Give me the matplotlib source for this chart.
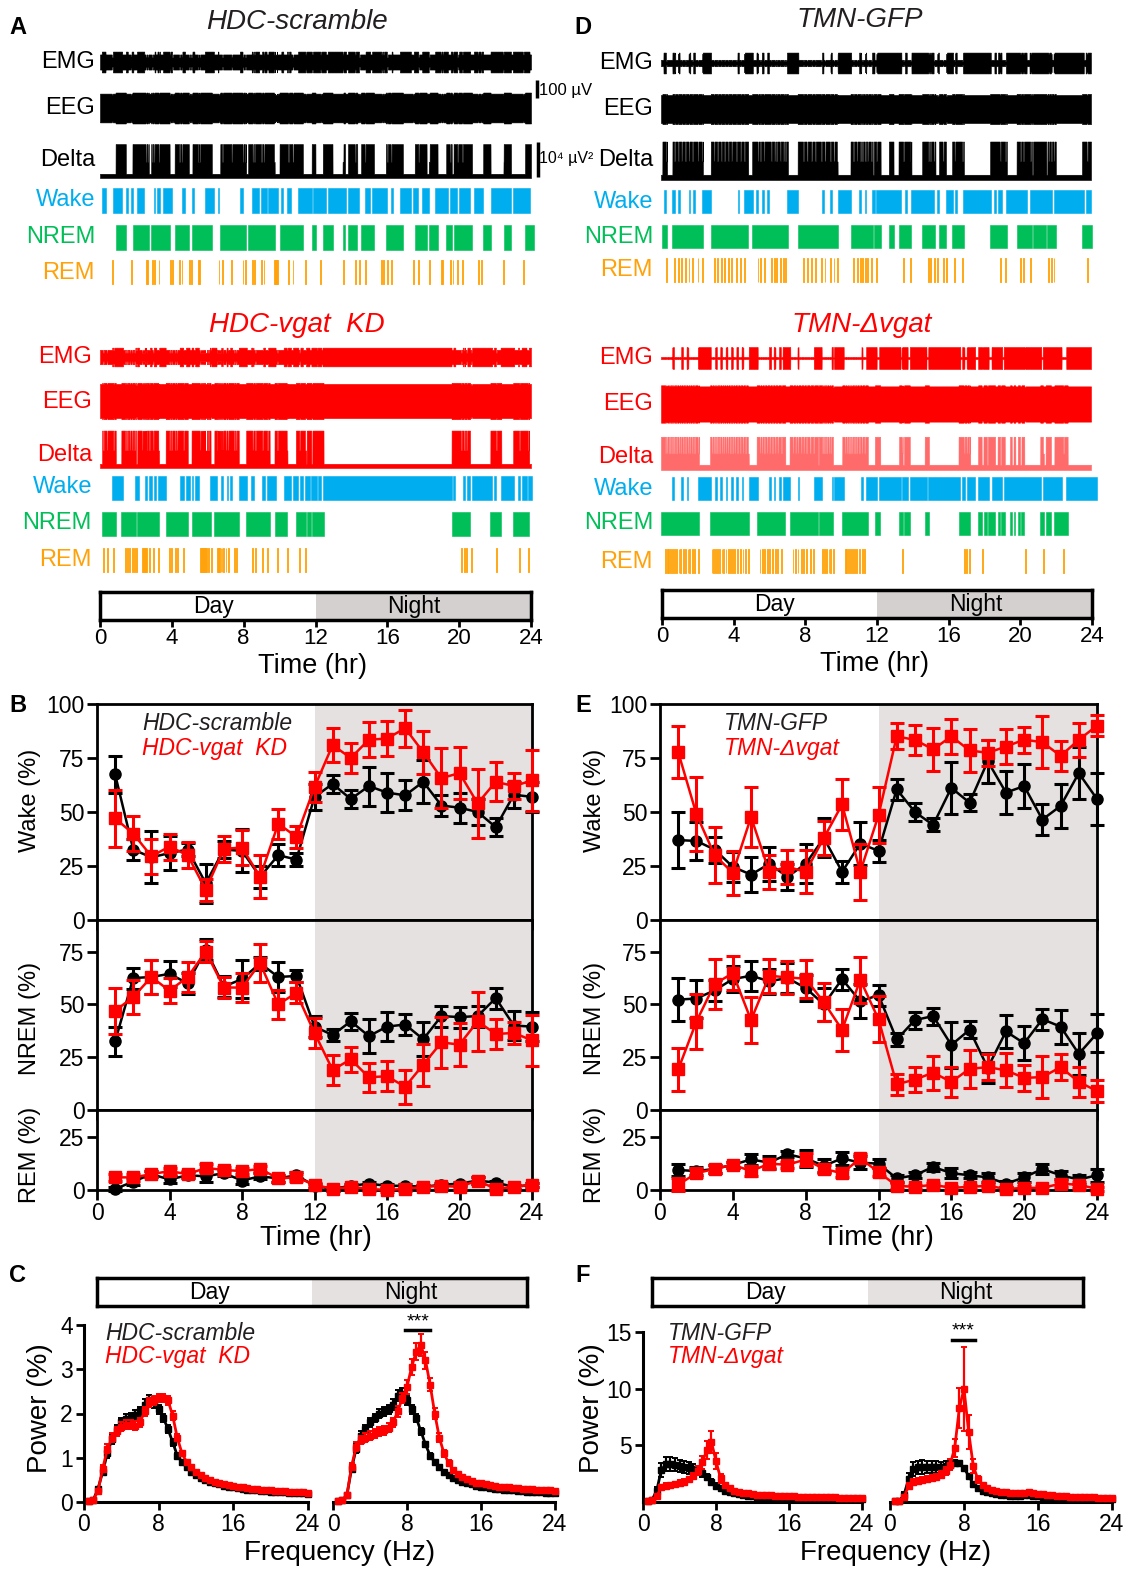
import numpy as np
import matplotlib
matplotlib.use("Agg")
import matplotlib.pyplot as plt

plt.rcParams['font.family'] = ['Liberation Sans', 'DejaVu Sans']

# ---------------------------------------------------------------- data
# Hypnograms (hours) ------------------------------------------------------
A_CTRL_WAKE = [(0.10, 0.31), (0.72, 1.24), (1.44, 1.55), (1.75, 1.86), (2.06, 2.47), (2.99, 3.09),
               (3.20, 3.34), (3.51, 4.02), (4.58, 4.74), (5.15, 5.26), (5.84, 6.35), (6.56, 6.64),
               (7.79, 7.94), (8.45, 8.87), (8.97, 9.28), (9.38, 9.90), (10.10, 10.21), (10.41, 10.62),
               (11.03, 11.80), (11.86, 12.58), (12.68, 13.71), (13.81, 14.43), (14.74, 15.05),
               (15.15, 15.98), (16.19, 16.29), (16.70, 17.32), (17.42, 17.73), (17.94, 18.31),
               (18.66, 19.38), (19.48, 19.90), (20.00, 20.62), (20.82, 21.34), (21.75, 22.89),
               (22.99, 23.92)]
A_CTRL_NREM = [(0.87, 1.44), (1.81, 2.72), (2.85, 3.88), (4.16, 4.95), (5.15, 6.23), (6.70, 8.14),
               (8.25, 9.73), (10.00, 11.30), (11.79, 12.00), (12.41, 12.95), (13.51, 13.65),
               (13.81, 14.33), (14.54, 15.26), (15.92, 16.87), (17.53, 18.19), (18.31, 18.80),
               (19.28, 19.59), (19.69, 20.72), (21.34, 21.75), (22.47, 22.89), (23.67, 24.15)]
A_CTRL_REM = [0.66, 1.71, 2.54, 2.64, 2.89, 2.99, 3.26, 3.88, 4.02, 4.41, 4.54, 4.95, 5.07, 5.46,
              5.53, 6.60, 6.80, 7.32, 7.94, 8.08, 8.49, 8.58, 8.97, 9.11, 9.69, 9.75, 9.80, 9.86,
              10.47, 10.72, 11.44, 12.27, 13.51, 14.19, 14.43, 14.74, 15.67, 15.77, 15.98, 16.19,
              17.42, 17.73, 18.31, 18.97, 19.07, 19.48, 19.63, 19.90, 20.16, 21.03, 21.20, 22.43,
              23.55]

A_KD_WAKE = [(0.68, 1.29), (1.97, 2.18), (2.49, 2.59), (2.73, 2.88), (3.00, 3.14), (3.25, 3.66),
             (4.44, 4.68), (4.79, 4.99), (5.10, 5.20), (5.30, 5.51), (6.12, 6.49), (6.74, 6.84),
             (7.05, 7.15), (7.25, 7.36), (7.73, 8.18), (8.42, 8.55), (9.04, 9.20), (9.31, 9.78),
             (10.23, 10.64), (10.75, 11.05), (11.16, 11.30), (11.42, 11.67), (11.77, 12.08),
             (12.12, 12.33), (12.39, 19.58), (19.68, 19.79), (20.20, 20.34), (20.46, 20.61),
             (20.71, 21.84), (21.94, 22.05), (22.31, 23.07), (23.28, 23.38), (23.48, 23.75),
             (23.83, 24.05)]
A_KD_NREM = [(0.12, 0.88), (1.19, 2.01), (2.08, 3.29), (3.66, 4.89), (5.10, 6.16), (6.37, 7.73),
             (8.14, 9.45), (9.72, 10.44), (10.91, 11.47), (11.51, 11.77), (11.83, 12.45),
             (19.58, 20.61), (21.74, 22.35), (23.01, 23.90)]
A_KD_REM = [0.16, 0.37, 0.74, 1.40, 1.50, 1.64, 1.77, 1.91, 2.01, 2.32, 2.38, 2.44, 2.50, 2.56,
            2.73, 2.94, 3.25, 3.86, 3.97, 4.17, 4.27, 4.64, 5.55, 5.61, 5.67, 5.73, 5.79, 5.85,
            5.90, 6.02, 6.16, 6.53, 6.59, 6.65, 6.71, 6.77, 6.83, 6.99, 7.11, 7.46, 7.56, 8.49,
            8.63, 9.04, 9.31, 9.86, 10.40, 11.10, 11.42, 20.10, 20.26, 20.40, 20.67, 22.05,
            23.34, 23.83]

D_CTRL_WAKE = [(0.14, 0.28), (0.64, 0.80), (0.94, 1.04), (1.54, 1.64), (1.80, 1.90), (2.30, 2.80),
               (4.27, 4.35), (4.63, 5.13), (5.33, 5.43), (5.63, 5.73), (5.93, 6.03), (7.03, 7.67),
               (8.99, 9.07), (9.46, 9.54), (9.86, 10.62), (11.06, 11.18), (11.38, 11.46),
               (11.78, 11.92), (12.02, 13.42), (13.62, 13.72), (13.98, 15.22), (15.42, 15.52),
               (15.91, 16.31), (16.41, 16.51), (16.85, 18.41), (18.61, 18.71), (18.81, 19.01),
               (19.25, 20.41), (20.57, 21.81), (21.91, 23.60), (23.70, 24.00)]
D_CTRL_NREM = [(0.08, 0.34), (0.64, 2.34), (2.78, 4.87), (5.09, 7.09), (7.63, 9.86), (10.58, 11.82),
               (11.88, 12.26), (12.72, 12.98), (13.26, 13.98), (14.58, 15.32), (15.52, 15.91),
               (16.25, 16.91), (18.37, 19.31), (19.85, 20.71), (20.77, 21.51), (21.57, 22.04),
               (23.50, 24.06)]
D_CTRL_REM = [0.28, 0.74, 0.94, 1.14, 1.34, 1.54, 1.74, 2.04, 2.28, 2.94, 3.14, 3.34, 3.53, 3.73,
              3.93, 4.19, 4.43, 4.63, 5.39, 5.53, 5.73, 6.13, 6.33, 6.43, 6.63, 6.83, 6.93, 7.93,
              8.13, 8.39, 8.59, 8.93, 9.13, 9.43, 9.63, 9.82, 10.72, 10.92, 11.12, 11.22, 11.38,
              11.52, 11.72, 12.02, 13.52, 13.92, 14.92, 15.02, 15.22, 15.42, 15.72, 15.91, 16.38,
              16.81, 18.91, 19.21, 20.05, 20.21, 20.61, 21.62, 21.77, 21.91, 23.76]

D_KD_WAKE = [(0.63, 0.73), (1.13, 1.23), (1.43, 1.53), (2.06, 2.78), (3.02, 3.12), (3.31, 3.41),
             (3.61, 3.71), (3.91, 4.01), (4.21, 4.31), (4.50, 4.60), (4.90, 5.40), (6.03, 6.15),
             (6.29, 6.39), (6.59, 6.69), (6.79, 7.22), (7.62, 7.68), (8.53, 8.97), (9.52, 9.60),
             (9.66, 10.20), (11.19, 11.25), (11.45, 12.04), (12.18, 13.37), (13.43, 13.77),
             (13.89, 14.82), (14.92, 16.71), (16.81, 16.94), (17.06, 17.54), (17.70, 18.29),
             (18.45, 19.05), (19.13, 21.23), (21.31, 22.36), (22.62, 24.35)]
D_KD_NREM = [(0.00, 2.12), (2.74, 4.90), (5.34, 6.94), (7.18, 8.77), (8.81, 9.60), (10.12, 11.55),
             (11.94, 12.24), (13.29, 13.49), (13.57, 13.89), (14.72, 14.96), (16.61, 17.26),
             (17.70, 17.90), (18.00, 18.19), (18.25, 18.65), (18.79, 18.93), (18.99, 19.19),
             (19.48, 19.58), (19.68, 19.78), (19.92, 20.04), (20.12, 20.28), (21.17, 21.37),
             (21.47, 21.77), (21.96, 22.70)]
D_KD_REM = [0.24, 0.32, 0.40, 0.50, 0.62, 0.72, 0.85, 0.98, 1.08, 1.22, 1.35, 1.48, 1.58, 1.72,
            1.85, 2.05, 2.82, 2.92, 3.02, 3.12, 3.25, 3.38, 3.48, 3.60, 3.72, 3.85, 3.98, 4.10,
            4.25, 4.40, 4.55, 4.70, 4.85, 5.50, 5.62, 5.75, 5.90, 6.05, 6.20, 6.35, 6.50, 6.70,
            7.34, 7.50, 7.62, 7.80, 7.95, 8.10, 8.30, 8.50, 9.00, 9.10, 9.22, 9.35, 9.45, 9.60,
            10.26, 10.35, 10.45, 10.55, 10.65, 10.78, 10.90, 11.05, 11.20, 11.35, 13.43, 16.90,
            17.05, 17.20, 17.92, 20.30, 21.32, 22.45]
REM_EPISODE_HR = 0.05

# Trace amplitude levels (uV half-amplitude; delta in 1e4 uV^2)
A_CTRL_LEVELS = dict(emg_base=42, emg_wake=16, eeg_base=80, eeg_nrem=6, delta_base=0.12, delta_nrem=0.85)
A_KD_LEVELS = dict(emg_base=40, emg_wake=12, eeg_base=95, eeg_nrem=6, delta_base=0.12, delta_nrem=0.95)
D_CTRL_LEVELS = dict(emg_base=18, emg_wake=40, eeg_base=78, eeg_nrem=6, delta_base=0.15, delta_nrem=0.95)
D_KD_LEVELS = dict(emg_base=6, emg_wake=55, eeg_base=98, eeg_nrem=6, delta_base=0.15, delta_nrem=0.80)

# Hourly sleep-wake percentages (B, E) --------------------------------------
HOURS = list(range(1, 25))
B_WAKE_CTRL = [67.4, 32.6, 29, 31, 32.6, 17, 32.6, 32, 20, 30, 28, 57, 63, 56, 62, 59, 57.7, 64, 53, 52, 50, 43, 58, 57]
B_WAKE_CTRL_E = [8.5, 5, 12, 8, 3, 9, 4, 10, 5, 5, 3, 6, 4, 4, 9, 9, 7, 10, 5, 7, 6, 4, 6, 7]
B_WAKE_KD = [47, 40, 29.5, 34, 30, 14, 33, 33.5, 20, 44.6, 38.5, 61.5, 81, 75, 83.5, 84, 88.8, 77.7, 65.7, 68, 54, 64, 62, 64.6]
B_WAKE_KD_E = [13, 8, 8, 6, 6, 5, 6, 8, 10, 7, 5, 7, 8, 7, 8, 8, 8.5, 10, 14, 12, 16, 9, 6, 14]
B_NREM_CTRL = [32.5, 62.5, 63, 64.5, 60, 76, 58.5, 62, 69.5, 63, 63.5, 39.5, 35.5, 42, 35, 39.5, 40.5, 33.5, 44.5, 44, 44.5, 53, 40, 39.5]
B_NREM_CTRL_E = [7, 5, 8, 6, 5, 5, 5, 9, 3, 7, 3, 5, 3, 4, 8, 7, 5, 8, 5, 5, 5, 5, 7, 7]
B_NREM_KD = [47, 53.5, 63, 56.5, 63, 75, 58, 58, 69.5, 50, 55.5, 36.5, 19, 24, 15.5, 16, 11, 21.5, 32, 31, 42, 36, 36.5, 33]
B_NREM_KD_E = [11, 8, 8, 6, 7, 5, 5, 7, 9, 7, 5, 7, 7, 6, 7, 7, 8, 10, 12, 10, 14, 7, 5, 12]
B_REM_CTRL = [0.5, 4, 7.5, 5, 7, 6.5, 8, 4.5, 6.5, 5.5, 7, 2, 0.5, 2, 3, 2, 2, 1.5, 2.5, 3, 4.5, 3.5, 1.5, 2.5]
B_REM_CTRL_E = [1, 1.5, 1.5, 1.5, 1.5, 2.5, 1.5, 1.5, 1.5, 1.5, 1.5, 1, 1, 1, 1, 1, 1, 1, 1, 1, 1.5, 1, 1, 1]
B_REM_KD = [6, 6, 7.5, 9, 7.5, 10.5, 9.5, 9, 10, 5.5, 6, 2.5, 0.5, 1.5, 0.5, 0, 0.5, 1.5, 2, 1.5, 4.5, 0.5, 1.5, 2.5]
B_REM_KD_E = [1.5, 1.5, 1.5, 1.5, 1.5, 2, 1.5, 1.5, 1.5, 1.5, 1.5, 1, 1, 1, 1, 1, 1, 1, 1, 1, 1.5, 1, 1, 1]

E_WAKE_CTRL = [37, 36.6, 32.6, 24.6, 21, 26, 20, 26, 38, 22.3, 35.4, 32, 60.5, 50, 44, 61.2, 54.3, 73.5, 59, 62, 46.5, 52.8, 68, 56]
E_WAKE_CTRL_E = [13, 9, 6, 7, 8, 8, 6, 9, 9, 5, 10, 5, 5, 4, 3, 12, 4, 10, 10, 10, 7, 10, 12, 12]
E_WAKE_KD = [77.7, 49, 30, 21.8, 47.7, 22.3, 24.6, 22.3, 38, 53.5, 22.3, 48.5, 85, 83.4, 79, 85, 78.5, 77.4, 80.3, 83.5, 82.3, 76, 83.4, 90]
E_WAKE_KD_E = [12, 17, 13, 10, 14, 8, 8, 10, 8, 12, 13, 13, 6, 7, 10, 8, 10, 6, 8, 6, 12, 7, 8, 5]
E_NREM_CTRL = [52.3, 52.8, 56.7, 62, 63.6, 61, 62.5, 57.8, 50, 62, 51.5, 54.4, 33.4, 42.6, 44.5, 30.8, 38, 20, 37.2, 31.6, 43, 39.5, 26.6, 36.3]
E_NREM_CTRL_E = [10, 9, 5, 6, 7, 6, 7, 6, 8, 5, 8, 5, 3, 4, 4, 11, 4, 7, 8, 8, 5, 8, 10, 9]
E_NREM_KD = [19.2, 41.9, 59.7, 64.8, 42.6, 63.6, 62.8, 62.2, 51, 38, 61.7, 43, 12.2, 14.4, 17.7, 13.3, 19.5, 20.3, 18.8, 15.2, 15.6, 20.3, 13.3, 9]
E_NREM_KD_E = [10, 13, 12, 8, 11, 8, 8, 9, 9, 10, 11, 11, 5, 6, 8, 7, 9, 6, 8, 6, 10, 6, 7, 5]
E_REM_CTRL = [9.5, 9, 10, 12, 14.5, 13, 17, 15, 11.5, 15, 13, 12.5, 5.5, 7, 11, 8, 7, 6, 3, 6, 10, 7, 5, 7]
E_REM_CTRL_E = [3, 2, 2, 1.5, 2.5, 3, 1.5, 4, 3, 3, 3, 2, 1.5, 1.5, 2, 2.5, 1.5, 2, 1.5, 2, 2.5, 2, 2, 3]
E_REM_KD = [2.5, 8, 10, 12, 9, 12.5, 12, 14.5, 10, 8, 15, 8.5, 2, 1.5, 2.5, 1, 1.5, 2, 0.5, 1, 1, 3, 2.5, 0.5]
E_REM_KD_E = [3, 2, 2, 1.5, 2.5, 2, 1.5, 3, 2, 2, 2, 2, 1.5, 1, 1, 1, 1, 1, 1, 1, 1, 1.5, 1.5, 1]

# EEG power spectra (C, F), 0.5 Hz bins ---------------------------------------
FREQ_HZ = np.arange(0.5, 24.01, 0.5)
C_DAY_CTRL = [0.03, 0.05, 0.3, 0.68, 1.1, 1.42, 1.65, 1.8, 1.88, 1.92, 1.97, 2.05, 2.2, 2.3, 2.25, 2.1,
              1.9, 1.65, 1.35, 1.05, 0.9, 0.78, 0.68, 0.6, 0.55, 0.5, 0.46, 0.42, 0.4, 0.37, 0.35, 0.33,
              0.31, 0.3, 0.28, 0.27, 0.26, 0.25, 0.24, 0.23, 0.225, 0.22, 0.215, 0.21, 0.205, 0.2, 0.195, 0.19]
C_DAY_KD = [0.03, 0.05, 0.25, 0.75, 1.2, 1.45, 1.6, 1.7, 1.75, 1.75, 1.72, 1.8, 2.05, 2.25, 2.3, 2.35,
            2.35, 2.3, 1.95, 1.45, 1.1, 0.9, 0.78, 0.68, 0.6, 0.54, 0.5, 0.46, 0.43, 0.4, 0.38, 0.36,
            0.34, 0.33, 0.31, 0.3, 0.29, 0.28, 0.27, 0.26, 0.25, 0.245, 0.24, 0.235, 0.23, 0.22, 0.215, 0.21]
C_NIGHT_CTRL = [0.03, 0.04, 0.15, 0.75, 1.2, 1.5, 1.65, 1.8, 1.9, 2.0, 2.05, 2.1, 2.2, 2.4, 2.45, 2.3,
                2.1, 1.9, 1.6, 1.3, 1.05, 0.9, 0.78, 0.68, 0.6, 0.54, 0.5, 0.46, 0.43, 0.4, 0.37, 0.35,
                0.33, 0.31, 0.3, 0.29, 0.28, 0.27, 0.26, 0.25, 0.24, 0.235, 0.23, 0.22, 0.215, 0.21, 0.205, 0.2]
C_NIGHT_KD = [0.03, 0.04, 0.15, 0.8, 1.25, 1.4, 1.45, 1.5, 1.55, 1.6, 1.62, 1.68, 1.8, 2.05, 2.35, 2.6,
              3.05, 3.4, 3.55, 3.2, 2.65, 2.0, 1.45, 1.1, 0.88, 0.72, 0.63, 0.56, 0.51, 0.47, 0.44, 0.42,
              0.4, 0.38, 0.37, 0.35, 0.34, 0.33, 0.32, 0.31, 0.3, 0.29, 0.285, 0.28, 0.27, 0.265, 0.26, 0.255]
C_SEM_CTRL = [0.01, 0.02, 0.05, 0.08, 0.1, 0.1, 0.1, 0.1, 0.1, 0.1, 0.1, 0.1, 0.12, 0.12, 0.12, 0.1,
              0.1, 0.1, 0.08, 0.06, 0.05, 0.04, 0.04, 0.03, 0.03, 0.03, 0.03, 0.02, 0.02, 0.02, 0.02, 0.02,
              0.02, 0.02, 0.02, 0.02, 0.02, 0.02, 0.02, 0.02, 0.02, 0.02, 0.02, 0.02, 0.02, 0.02, 0.02, 0.02]
C_SEM_KD_DAY = [0.01, 0.02, 0.05, 0.08, 0.1, 0.1, 0.1, 0.1, 0.1, 0.1, 0.1, 0.1, 0.1, 0.1, 0.1, 0.1,
                0.1, 0.1, 0.1, 0.08, 0.06, 0.05, 0.04, 0.03, 0.03, 0.03, 0.03, 0.02, 0.02, 0.02, 0.02, 0.02,
                0.02, 0.02, 0.02, 0.02, 0.02, 0.02, 0.02, 0.02, 0.02, 0.02, 0.02, 0.02, 0.02, 0.02, 0.02, 0.02]
C_SEM_KD_NIGHT = [0.01, 0.02, 0.05, 0.08, 0.1, 0.1, 0.1, 0.1, 0.1, 0.1, 0.1, 0.1, 0.1, 0.12, 0.12, 0.15,
                  0.18, 0.2, 0.25, 0.2, 0.15, 0.12, 0.1, 0.08, 0.06, 0.05, 0.04, 0.03, 0.03, 0.03, 0.02, 0.02,
                  0.02, 0.02, 0.02, 0.02, 0.02, 0.02, 0.02, 0.02, 0.02, 0.02, 0.02, 0.02, 0.02, 0.02, 0.02, 0.02]

F_DAY_CTRL = [0.1, 0.2, 1.0, 2.8, 3.35, 3.35, 3.3, 3.2, 3.1, 3.0, 2.9, 2.8, 2.55, 2.2, 1.8, 1.45,
              1.2, 1.0, 0.88, 0.78, 0.7, 0.63, 0.57, 0.52, 0.48, 0.45, 0.42, 0.4, 0.38, 0.37, 0.36, 0.35,
              0.34, 0.33, 0.32, 0.31, 0.3, 0.3, 0.29, 0.28, 0.28, 0.27, 0.27, 0.26, 0.26, 0.25, 0.25, 0.25]
F_DAY_KD = [0.1, 0.15, 0.5, 1.3, 1.45, 1.5, 1.6, 1.7, 1.8, 2.0, 2.3, 2.75, 3.5, 4.6, 5.3, 3.6,
            2.1, 1.5, 1.2, 1.0, 0.9, 0.82, 0.76, 0.7, 0.66, 0.63, 0.6, 0.58, 0.56, 0.54, 0.52, 0.5,
            0.49, 0.48, 0.47, 0.46, 0.45, 0.44, 0.43, 0.42, 0.41, 0.4, 0.39, 0.38, 0.37, 0.36, 0.35, 0.35]
F_NIGHT_CTRL = [0.05, 0.1, 0.6, 2.0, 2.9, 3.05, 3.1, 3.1, 3.1, 3.1, 3.1, 3.2, 3.3, 3.45, 3.4, 3.0,
                2.3, 1.6, 1.25, 1.0, 0.88, 0.78, 0.7, 0.64, 0.6, 0.57, 0.56, 0.56, 0.58, 0.6, 0.56, 0.5,
                0.45, 0.41, 0.38, 0.35, 0.33, 0.32, 0.31, 0.3, 0.29, 0.28, 0.27, 0.27, 0.26, 0.26, 0.25, 0.25]
F_NIGHT_KD = [0.05, 0.1, 0.4, 1.4, 1.75, 1.85, 1.95, 2.05, 2.15, 2.25, 2.4, 2.7, 3.3, 4.8, 8.3, 10.0,
              6.2, 3.2, 2.0, 1.5, 1.25, 1.1, 1.0, 0.92, 0.86, 0.82, 0.8, 0.8, 0.82, 0.84, 0.8, 0.74,
              0.68, 0.62, 0.58, 0.55, 0.52, 0.5, 0.48, 0.46, 0.44, 0.42, 0.41, 0.4, 0.39, 0.38, 0.37, 0.36]
F_SEM_CTRL = [0.05, 0.1, 0.3, 0.6, 0.6, 0.6, 0.6, 0.55, 0.5, 0.5, 0.45, 0.4, 0.35, 0.3, 0.25, 0.2,
              0.15, 0.12, 0.1, 0.08, 0.07, 0.06, 0.05, 0.05, 0.05, 0.05, 0.05, 0.05, 0.05, 0.05, 0.05, 0.05,
              0.05, 0.05, 0.05, 0.05, 0.05, 0.05, 0.05, 0.05, 0.05, 0.05, 0.05, 0.05, 0.05, 0.05, 0.05, 0.05]
F_SEM_KD_DAY = [0.05, 0.1, 0.2, 0.2, 0.2, 0.2, 0.2, 0.2, 0.2, 0.25, 0.3, 0.4, 0.6, 0.8, 1.0, 0.7,
                0.4, 0.2, 0.15, 0.1, 0.08, 0.07, 0.06, 0.05, 0.05, 0.05, 0.05, 0.05, 0.05, 0.05, 0.05, 0.05,
                0.05, 0.05, 0.05, 0.05, 0.05, 0.05, 0.05, 0.05, 0.05, 0.05, 0.05, 0.05, 0.05, 0.05, 0.05, 0.05]
F_SEM_KD_NIGHT = [0.05, 0.1, 0.2, 0.25, 0.25, 0.25, 0.25, 0.25, 0.25, 0.25, 0.3, 0.35, 0.5, 0.8, 1.8, 3.7,
                  1.5, 0.6, 0.3, 0.2, 0.15, 0.1, 0.08, 0.07, 0.06, 0.06, 0.06, 0.06, 0.06, 0.06, 0.06, 0.06,
                  0.05, 0.05, 0.05, 0.05, 0.05, 0.05, 0.05, 0.05, 0.05, 0.05, 0.05, 0.05, 0.05, 0.05, 0.05, 0.05]

# ---------------------------------------------------------------- style
W, H = 1129, 1569
RED = '#ff0000'
DARK = '#231f20'
WAKE_C = '#00aeef'
NREM_C = '#00bf58'
REM_C = '#ffa20a'
NIGHT_BG = '#e5e1e1'
NIGHT_BAR = '#d4d0d0'
PX_PER_UV = 0.18          # 100 uV scale bar = 18 px
PX_PER_DELTA = 35         # 1e4 uV^2 scale bar = 35 px

fig = plt.figure(figsize=(W / 100, H / 100), dpi=100)


def add_ax(x0, y0, x1, y1):
    return fig.add_axes([x0 / W, 1 - y1 / H, (x1 - x0) / W, (y1 - y0) / H])


def ftext(x, y, s, **kw):
    kw.setdefault('va', 'center')
    return fig.text(x / W, 1 - y / H, s, **kw)


def interval_mask(t, intervals):
    m = np.zeros_like(t, dtype=bool)
    for a, b in intervals:
        m |= (t >= a) & (t < b)
    return m


# ---------------------------------------------------------------- A / D traces
def draw_recording(ax, wake, nrem, rem, lv, color, rows, delta_color=None):
    t = np.linspace(0, 24, 4801)
    wm = interval_mask(t, wake).astype(float)
    nm = interval_mask(t, nrem).astype(float)
    rm = interval_mask(t, [(s, s + REM_EPISODE_HR) for s in rem]).astype(float)
    c = rows['emg']
    a = (lv['emg_base'] * (1 - 0.4 * rm) + lv['emg_wake'] * wm) * PX_PER_UV
    ax.fill_between(t, c - a, c + a, color=color, lw=0.4, edgecolor=color)
    c = rows['eeg']
    a = (lv['eeg_base'] + lv['eeg_nrem'] * nm - lv['eeg_nrem'] * rm) * PX_PER_UV
    ax.fill_between(t, c - a, c + a, color=color, lw=0.4, edgecolor=color)
    b = rows['delta']
    d = (lv['delta_base'] + lv['delta_nrem'] * nm * (1 - 0.6 * rm)) * PX_PER_DELTA
    dc = delta_color or color
    ax.fill_between(t, b, b - d, color=dc, lw=0.4, edgecolor=dc)
    y0, y1 = rows['wake']
    ax.broken_barh([(s, e - s) for s, e in wake], (y0, y1 - y0), facecolors=WAKE_C,
                   edgecolors=WAKE_C, lw=0.4, clip_on=False)
    y0, y1 = rows['nrem']
    ax.broken_barh([(s, e - s) for s, e in nrem], (y0, y1 - y0), facecolors=NREM_C,
                   edgecolors=NREM_C, lw=0.4, clip_on=False)
    y0, y1 = rows['rem']
    ax.broken_barh([(s, REM_EPISODE_HR) for s in rem], (y0, y1 - y0), facecolors=REM_C,
                   edgecolors=REM_C, lw=0.6, clip_on=False)


def trace_labels(xr, ys, top_color):
    names = ['EMG', 'EEG', 'Delta', 'Wake', 'NREM', 'REM']
    cols = [top_color, top_color, top_color, WAKE_C, NREM_C, REM_C]
    for n, y, c in zip(names, ys, cols):
        ftext(xr, y, n, ha='right', color=c, fontsize=17)


def daynight(x0, y0, x1, y1, ticks):
    ax = add_ax(x0, y0, x1, y1)
    ax.set_xlim(0, 24)
    ax.set_ylim(0, 1)
    ax.axvspan(12, 24, color=NIGHT_BAR if ticks else NIGHT_BG, lw=0)
    ax.text(6.3, 0.47, 'Day', ha='center', va='center', fontsize=16.5)
    ax.text(17.5, 0.47, 'Night', ha='center', va='center', fontsize=16.5)
    for s in ax.spines.values():
        s.set_linewidth(2.5)
    ax.set_yticks([])
    if ticks:
        ax.set_xticks([0, 4, 8, 12, 16, 20, 24])
        ax.tick_params(axis='x', direction='out', length=5, width=2, labelsize=16, pad=1)
    else:
        ax.set_xticks([])
    return ax


rows_a1 = dict(emg=62, eeg=108, delta=178, wake=(188, 213), nrem=(225, 250), rem=(260, 284))
rows_a2 = dict(emg=357, eeg=401, delta=468, wake=(476, 500), nrem=(512, 536), rem=(548, 572))
rows_d1 = dict(emg=63, eeg=109, delta=180, wake=(190, 213), nrem=(225, 248), rem=(258, 282))
rows_d2 = dict(emg=358, eeg=404, delta=470, wake=(477, 500), nrem=(512, 535), rem=(549, 573))

axA = add_ax(100, 0, 531, 585)
axA.set_xlim(0, 24)
axA.set_ylim(585, 0)
axA.axis('off')
draw_recording(axA, A_CTRL_WAKE, A_CTRL_NREM, A_CTRL_REM, A_CTRL_LEVELS, 'black', rows_a1)
draw_recording(axA, A_KD_WAKE, A_KD_NREM, A_KD_REM, A_KD_LEVELS, RED, rows_a2)

axD = add_ax(661, 0, 1091, 585)
axD.set_xlim(0, 24)
axD.set_ylim(585, 0)
axD.axis('off')
draw_recording(axD, D_CTRL_WAKE, D_CTRL_NREM, D_CTRL_REM, D_CTRL_LEVELS, 'black', rows_d1)
draw_recording(axD, D_KD_WAKE, D_KD_NREM, D_KD_REM, D_KD_LEVELS, RED, rows_d2,
               delta_color='#ff6a6a')

trace_labels(95, [62, 108, 160, 200, 237, 273], 'black')
trace_labels(92, [357, 402, 455, 487, 523, 560], RED)
trace_labels(653, [63, 109, 160, 202, 237, 270], 'black')
trace_labels(653, [358, 404, 457, 489, 523, 562], RED)

ftext(297, 22, 'HDC-scramble', ha='center', style='italic', fontsize=20, color=DARK)
ftext(297, 325, 'HDC-vgat  KD', ha='center', style='italic', fontsize=20, color=RED)
ftext(860, 20, 'TMN-GFP', ha='center', style='italic', fontsize=20, color=DARK)
ftext(862, 325, 'TMN-\u0394vgat', ha='center', style='italic', fontsize=20, color=RED)

# scale bars
sb = add_ax(530, 60, 545, 200)
sb.set_xlim(0, 1)
sb.set_ylim(200, 60)
sb.axis('off')
sb.plot([0.45, 0.45], [98, 98 - 100 * PX_PER_UV], color='black', lw=2.5, solid_capstyle='butt')
sb.plot([0.55, 0.55], [177, 177 - PX_PER_DELTA], color='black', lw=2.5, solid_capstyle='butt')
ftext(539, 90, '100 \u00b5V', ha='left', fontsize=12)
ftext(539, 158, '10\u2074 \u00b5V\u00b2', ha='left', fontsize=11.5)

daynight(100, 592, 531, 620, True)
ftext(313, 666, 'Time (hr)', ha='center', fontsize=19.5)
daynight(662, 590, 1092, 618, True)
ftext(875, 664, 'Time (hr)', ha='center', fontsize=19.5)


# ---------------------------------------------------------------- B / E
def timecourse(x0, x1, series, names, legend_x):
    specs = [(704, 920, 100, [0, 25, 50, 75, 100]),
             (920, 1110, 90, [0, 25, 50, 75]),
             (1110, 1190, 38, [0, 25])]
    for i, ((y0, y1, ymax, yt), (c, ce, k, ke)) in enumerate(zip(specs, series)):
        ax = add_ax(x0, y0, x1, y1)
        ax.axvspan(12, 24, color=NIGHT_BG, lw=0, zorder=0)
        ax.errorbar(HOURS, c, yerr=ce, color='black', marker='o', ms=8, lw=1.8,
                    elinewidth=2.2, capsize=5, capthick=2.2, clip_on=False, zorder=3)
        ax.errorbar(HOURS, k, yerr=ke, color=RED, marker='s', ms=8, lw=1.8,
                    elinewidth=2.2, capsize=5, capthick=2.2, clip_on=False, zorder=4)
        ax.set_xlim(0, 24)
        ax.set_ylim(0, ymax)
        ax.set_yticks(yt)
        ax.set_xticks([0, 4, 8, 12, 16, 20, 24])
        ax.tick_params(direction='out', length=7, width=2, labelsize=16.5, pad=2)
        if i < 2:
            ax.tick_params(axis='x', labelbottom=False)
        for s in ax.spines.values():
            s.set_linewidth(2)
    ftext(legend_x, 724, names[0], ha='left', style='italic', fontsize=16.5, color=DARK)
    ftext(legend_x, 748, names[1], ha='left', style='italic', fontsize=16.5, color=RED)


timecourse(97, 532,
           [(B_WAKE_CTRL, B_WAKE_CTRL_E, B_WAKE_KD, B_WAKE_KD_E),
            (B_NREM_CTRL, B_NREM_CTRL_E, B_NREM_KD, B_NREM_KD_E),
            (B_REM_CTRL, B_REM_CTRL_E, B_REM_KD, B_REM_KD_E)],
           ['HDC-scramble', 'HDC-vgat  KD'], 142)
timecourse(660, 1097,
           [(E_WAKE_CTRL, E_WAKE_CTRL_E, E_WAKE_KD, E_WAKE_KD_E),
            (E_NREM_CTRL, E_NREM_CTRL_E, E_NREM_KD, E_NREM_KD_E),
            (E_REM_CTRL, E_REM_CTRL_E, E_REM_KD, E_REM_KD_E)],
           ['TMN-GFP', 'TMN-\u0394vgat'], 724)

for x in (30, 595):
    ftext(x, 800, 'Wake (%)', ha='center', rotation=90, fontsize=17)
    ftext(x, 1018, 'NREM (%)', ha='center', rotation=90, fontsize=17)
    ftext(x, 1155, 'REM (%)', ha='center', rotation=90, fontsize=17)
ftext(316, 1238, 'Time (hr)', ha='center', fontsize=20)
ftext(878, 1238, 'Time (hr)', ha='center', fontsize=20)


# ---------------------------------------------------------------- C / F
def spectra(xs, y0, y1, ymax, yticks, day, night, star, names, legend_x, ylab_x, xlab_x):
    axes = []
    for j, ((xa, xb), (c, ce, k, ke)) in enumerate(zip(xs, (day, night))):
        ax = add_ax(xa, y0, xb, y1)
        ax.errorbar(FREQ_HZ, c, yerr=ce, color='black', marker='s', ms=4, lw=2,
                    elinewidth=1.6, capsize=2, capthick=1.4, clip_on=False, zorder=3)
        ax.errorbar(FREQ_HZ, k, yerr=ke, color=RED, marker='s', ms=4, lw=2,
                    elinewidth=1.6, capsize=2, capthick=1.4, clip_on=False, zorder=4)
        ax.set_xlim(0, 24)
        ax.set_ylim(0, ymax)
        ax.set_xticks([0, 8, 16, 24])
        ax.spines['top'].set_visible(False)
        ax.spines['right'].set_visible(False)
        for s in ('left', 'bottom'):
            ax.spines[s].set_linewidth(2.2)
        ax.tick_params(direction='out', length=6, width=2, labelsize=16.5, pad=2)
        if j == 0:
            ax.set_yticks(yticks)
        else:
            ax.spines['left'].set_visible(False)
            ax.set_yticks([])
        axes.append(ax)
    sx0, sx1, sy = star
    axes[1].plot([sx0, sx1], [sy, sy], color='black', lw=2.5, clip_on=False)
    axes[1].text((sx0 + sx1) / 2, sy, '***', ha='center', va='bottom', fontsize=14,
                 clip_on=False)
    ftext(legend_x, 1333, names[0], ha='left', style='italic', fontsize=16.5, color=DARK)
    ftext(legend_x, 1357, names[1], ha='left', style='italic', fontsize=16.5, color=RED)
    ftext(ylab_x, 1408, 'Power (%)', ha='center', rotation=90, fontsize=20)
    ftext(xlab_x, 1553, 'Frequency (Hz)', ha='center', fontsize=20)


daynight(97, 1278, 527, 1306, False)
spectra([(84, 308), (333, 555)], 1325, 1502, 4, [0, 1, 2, 3, 4],
        (C_DAY_CTRL, C_SEM_CTRL, C_DAY_KD, C_SEM_KD_DAY),
        (C_NIGHT_CTRL, C_SEM_CTRL, C_NIGHT_KD, C_SEM_KD_NIGHT),
        (7.8, 10.5, 3.88), ['HDC-scramble', 'HDC-vgat  KD'], 105, 40, 340)

daynight(652, 1278, 1083, 1306, False)
spectra([(643, 862), (890, 1112)], 1332, 1502, 15, [5, 10, 15],
        (F_DAY_CTRL, F_SEM_CTRL, F_DAY_KD, F_SEM_KD_DAY),
        (F_NIGHT_CTRL, F_SEM_CTRL, F_NIGHT_KD, F_SEM_KD_NIGHT),
        (6.7, 9.2, 14.3), ['TMN-GFP', 'TMN-\u0394vgat'], 668, 592, 896)

# panel letters
for L, x, y in [('A', 18, 27), ('D', 583, 27), ('B', 18, 705), ('E', 583, 705),
                ('C', 18, 1275), ('F', 583, 1275)]:
    ftext(x, y, L, ha='center', fontweight='bold', fontsize=17)

fig.savefig('out.png', dpi=100)
